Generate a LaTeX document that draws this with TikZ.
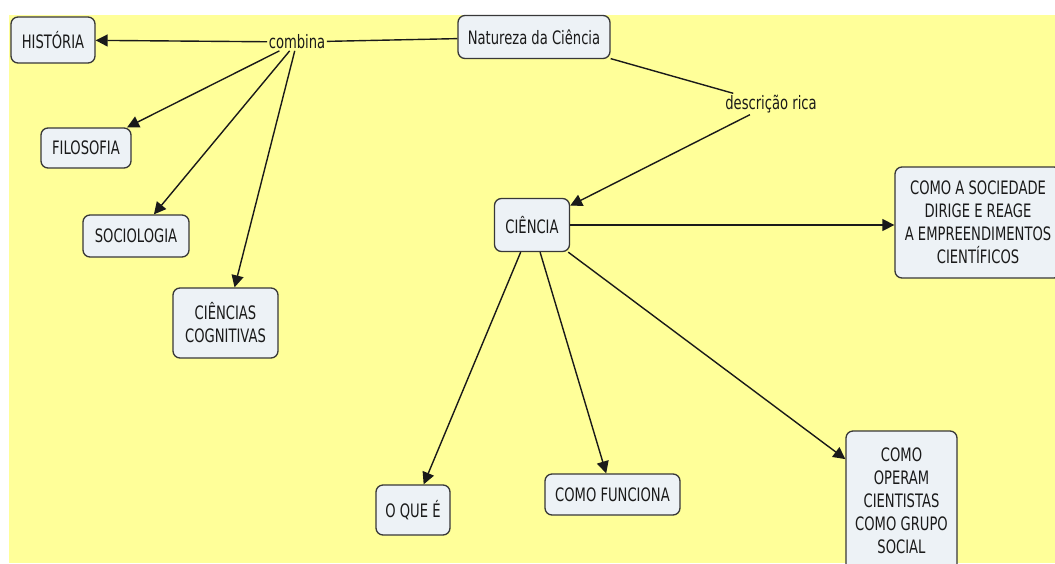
\documentclass[tikz,border=0pt]{standalone}
\usepackage{fontspec}
\setmainfont{DejaVu Sans}[FakeStretch=0.71]
\usetikzlibrary{arrows.meta}
\definecolor{mapbg}{HTML}{FFFF99}
\definecolor{boxfill}{HTML}{EDF2F6}
\definecolor{boxline}{HTML}{383838}
\definecolor{ink}{HTML}{1A1A1A}
\tikzset{
  concept/.style={draw=boxline, fill=boxfill, line width=1.3pt, rounded corners=7pt,
    align=center, text=ink, inner sep=3pt, font=\fontsize{18.5}{23}\selectfont},
  linkword/.style={inner sep=1.5pt, text=ink, font=\fontsize{18.5}{23}\selectfont},
  link/.style={draw=ink, line width=1.4pt},
  arr/.style={link, -{Triangle[length=12pt, width=12pt]}}
}
\begin{document}
\begin{tikzpicture}[x=1pt, y=-1pt]
  % page and backdrop
  \useasboundingbox (0,0) rectangle (1055,563);
  \fill[white] (0,0) rectangle (1055,563);
  \fill[mapbg] (9,15) rectangle (1055,563);
  \clip (0,0) rectangle (1055,563);

  % concepts
  \node[concept, minimum width=84, minimum height=46] (hist) at (53,40) {HISTÓRIA};
  \node[concept, minimum width=152, minimum height=43] (nat) at (534,37) {Natureza da Ciência};
  \node[concept, minimum width=90, minimum height=40] (filo) at (86,148) {FILOSOFIA};
  \node[concept, minimum width=106, minimum height=42] (soc) at (136,236) {SOCIOLOGIA};
  \node[concept, minimum width=105, minimum height=70] (cog) at (225.5,323) {CIÊNCIAS\\COGNITIVAS};
  \node[concept, minimum width=75, minimum height=53] (cien) at (532,225) {CIÊNCIA};
  \node[concept, minimum width=166, minimum height=111] (socd) at (978,222.5)
    {COMO A SOCIEDADE\\DIRIGE E REAGE\\A EMPREENDIMENTOS\\CIENTÍFICOS};
  \node[concept, minimum width=111, minimum height=140] (oper) at (901.5,501)
    {COMO\\OPERAM\\CIENTISTAS\\COMO GRUPO\\SOCIAL};
  \node[concept, minimum width=74, minimum height=50] (oque) at (413,510) {O QUE É};
  \node[concept, minimum width=135, minimum height=41] (func) at (612.5,494.5) {COMO FUNCIONA};

  % linking phrases
  \node[linkword] (comb) at (297,42) {combina};
  \node[linkword] (desc) at (771,104) {descrição rica};

  % connections
  \draw[link] (nat) -- (comb);
  \draw[arr] (comb) -- (hist);
  \draw[arr] (comb) -- (filo);
  \draw[arr] (comb) -- (soc);
  \draw[arr] (comb) -- (cog);
  \draw[link] (nat) -- (desc);
  \draw[arr] (desc) -- (cien);
  \draw[arr] (cien.east) -- (cien.east -| socd.west);
  \draw[arr] (cien) -- (oque);
  \draw[arr] (cien) -- (func);
  \draw[arr] (cien) -- (oper);
\end{tikzpicture}
\end{document}
